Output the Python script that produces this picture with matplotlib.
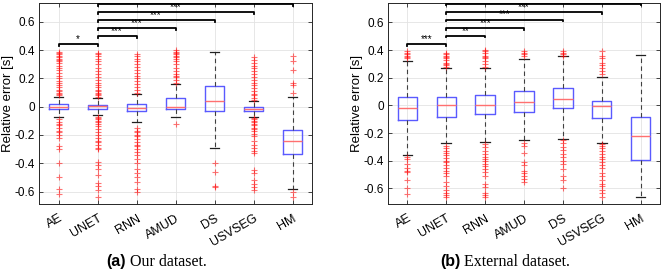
import matplotlib
matplotlib.use("Agg")
import matplotlib.pyplot as plt

plt.rcParams["font.family"] = ["Liberation Sans", "DejaVu Sans"]

methods = ["AE", "UNET", "RNN", "AMUD", "DS", "USVSEG", "HM"]

# ---- (a) Our dataset: q1, median, q3, whisker low, whisker high ----
a_q1 = [-0.019, -0.017, -0.033, -0.014, -0.030, -0.030, -0.333]
a_med = [0.000, 0.002, -0.011, 0.001, 0.038, -0.014, -0.246]
a_q3 = [0.016, 0.014, 0.019, 0.061, 0.144, 0.000, -0.163]
a_wlo = [-0.071, -0.058, -0.106, -0.071, -0.290, -0.075, -0.580]
a_whi = [0.068, 0.060, 0.092, 0.157, 0.390, 0.043, 0.068]
a_fliers = [
    [0.08, 0.09, 0.10, 0.11, 0.12, 0.14, 0.15, 0.17, 0.18, 0.20, 0.22, 0.24, 0.26, 0.27, 0.29,
     0.31, 0.32, 0.33, 0.34, 0.35, 0.36, 0.37, 0.38, 0.39,
     -0.09, -0.11, -0.12, -0.13, -0.15, -0.17, -0.18, -0.20, -0.22, -0.28, -0.30, -0.40, -0.50,
     -0.58, -0.62],
    [0.07, 0.08, 0.09, 0.10, 0.11, 0.12, 0.14, 0.15, 0.17, 0.19, 0.21, 0.23, 0.25, 0.27, 0.30,
     0.32, 0.34, 0.36, 0.37, 0.38,
     -0.07, -0.08, -0.09, -0.10, -0.11, -0.12, -0.14, -0.16, -0.18, -0.20, -0.22, -0.24, -0.25,
     -0.27, -0.29, -0.30, -0.39, -0.41, -0.44, -0.48, -0.54, -0.56, -0.59, -0.64],
    [0.10, 0.12, 0.14, 0.16, 0.18, 0.20, 0.22, 0.24, 0.26, 0.28, 0.30, 0.32, 0.34, 0.36, 0.37,
     -0.15, -0.17, -0.18, -0.20, -0.21, -0.23, -0.25, -0.27, -0.28, -0.30, -0.32, -0.34,
     -0.37, -0.40, -0.44, -0.47, -0.50, -0.53, -0.58, -0.60],
    [0.17, 0.19, 0.21, 0.22, 0.23, 0.25, 0.27, 0.30, 0.32, 0.34, 0.35, 0.36, 0.37, 0.38, 0.39,
     0.40, -0.12],
    [-0.40, -0.46, -0.56, -0.57],
    [0.05, 0.06, 0.08, 0.09, 0.11, 0.13, 0.15, 0.17, 0.19, 0.21, 0.23, 0.25, 0.27, 0.29, 0.31,
     0.33, 0.35,
     -0.08, -0.09, -0.10, -0.11, -0.12, -0.13, -0.15, -0.16, -0.17, -0.19, -0.21, -0.24,
     -0.27, -0.29, -0.31, -0.33, -0.45, -0.47, -0.52, -0.55, -0.57, -0.59],
    [0.36, 0.32, 0.26, 0.17, 0.155, 0.10, -0.60, -0.64],
]

# ---- (b) External dataset ----
b_q1 = [-0.107, -0.083, -0.065, -0.051, -0.020, -0.094, -0.392]
b_med = [-0.017, 0.000, 0.002, 0.024, 0.044, -0.007, -0.223]
b_q3 = [0.063, 0.058, 0.075, 0.106, 0.128, 0.029, -0.087]
b_wlo = [-0.360, -0.274, -0.267, -0.252, -0.243, -0.269, -0.659]
b_whi = [0.320, 0.270, 0.270, 0.334, 0.356, 0.203, 0.365]
b_fliers = [
    [0.34, 0.35, 0.36, 0.37, 0.38, 0.39,
     -0.37, -0.39, -0.42, -0.45, -0.47, -0.48, -0.54, -0.60, -0.64],
    [0.28, 0.29, 0.30, 0.31, 0.33, 0.34, 0.35, 0.36, 0.37, 0.38,
     -0.29, -0.31, -0.33, -0.34, -0.36, -0.38, -0.40, -0.41, -0.43, -0.45, -0.47, -0.49,
     -0.51, -0.55, -0.58, -0.61, -0.63, -0.65, -0.66],
    [0.28, 0.30, 0.32, 0.34, 0.35, 0.36, 0.38, 0.39, 0.40,
     -0.28, -0.30, -0.33, -0.35, -0.37, -0.39, -0.40, -0.42, -0.44, -0.46, -0.48, -0.51,
     -0.57, -0.59, -0.63, -0.65, -0.66],
    [0.36, 0.37, 0.38, 0.39,
     -0.27, -0.29, -0.34, -0.41, -0.43, -0.47, -0.49, -0.51, -0.53, -0.55],
    [0.36, 0.37, 0.38, 0.39,
     -0.25, -0.27, -0.30, -0.32, -0.35, -0.37, -0.40, -0.42, -0.46, -0.51, -0.54, -0.60],
    [0.23, 0.25, 0.27, 0.29, 0.31, 0.34, 0.36, 0.39,
     -0.28, -0.29, -0.31, -0.33, -0.35, -0.37, -0.39, -0.41, -0.43, -0.45, -0.49, -0.51,
     -0.54, -0.57, -0.58, -0.61, -0.63, -0.66],
    [],
]

# significance brackets: (from index, to index, height, label)
a_sig = [(0, 1, 0.444, "*"), (1, 2, 0.499, "***"), (1, 3, 0.553, "***"),
         (1, 4, 0.612, "***"), (1, 5, 0.667, "***"), (1, 6, 0.726, "***")]
b_sig = [(0, 1, 0.443, "***"), (1, 2, 0.503, "**"), (1, 3, 0.559, "***"),
         (1, 4, 0.620, "***"), (1, 5, 0.674, "***"), (1, 6, 0.736, "***")]

yticks = [-0.6, -0.4, -0.2, 0, 0.2, 0.4, 0.6]
ytick_labels = ["-0.6", "-0.4", "-0.2", "0", "0.2", "0.4", "0.6"]

captions = [("(a)", " Our dataset."), ("(b)", " External dataset.")]

W, H = 661, 271
fig = plt.figure(figsize=(W / 100, H / 100), dpi=100)
axA = fig.add_axes([39 / W, 1 - 204 / H, 273 / W, 201 / H])
axB = fig.add_axes([388 / W, 1 - 204 / H, 272 / W, 201 / H])


def draw(ax, q1, med, q3, wlo, whi, fliers, sig, ylim):
    stats = []
    for i, m in enumerate(methods):
        stats.append(dict(label=m, q1=q1[i], med=med[i], q3=q3[i],
                          whislo=wlo[i], whishi=whi[i], fliers=fliers[i]))
    pos = list(range(1, len(methods) + 1))
    ax.bxp(stats, positions=pos, widths=0.5, capwidths=0.25, showfliers=True,
           boxprops=dict(color="#5a5aff", lw=1.0),
           medianprops=dict(color="#ff7070", lw=1.0),
           whiskerprops=dict(color="#404040", lw=0.8, linestyle=(0, (4, 3))),
           capprops=dict(color="#202020", lw=0.9),
           flierprops=dict(marker="+", markeredgecolor="red", markersize=5,
                           markeredgewidth=0.8, alpha=0.55, linestyle="none"))
    for (i, j, y, lab) in sig:
        x1, x2 = pos[i], pos[j]
        ax.plot([x1, x1, x2, x2], [y - 0.012, y, y, y - 0.012], color="black",
                lw=1.3, clip_on=True, zorder=5)
        ax.text((x1 + x2) / 2, y + 0.001, lab, ha="center", va="bottom",
                fontsize=7, clip_on=True, zorder=5)
    ax.set_xlim(0.5, len(methods) + 0.5)
    ax.set_ylim(*ylim)
    ax.set_yticks(yticks)
    ax.set_yticklabels(ytick_labels, fontsize=8.5)
    ax.set_xticks(pos)
    ax.set_xticklabels(methods, rotation=30, ha="right", rotation_mode="anchor",
                       fontsize=9)
    ax.grid(True, color="#e3e3e3", lw=0.6)
    ax.set_axisbelow(True)
    ax.tick_params(direction="in", top=True, right=True, length=3, width=0.6,
                   color="#262626")
    ax.tick_params(axis="y", pad=3)
    ax.tick_params(axis="x", pad=6)
    for s in ax.spines.values():
        s.set_color("#262626")
        s.set_linewidth(0.7)
    ax.set_ylabel("Relative error [s]", fontsize=9.5)
    ax.yaxis.set_label_coords(-25 / 273, 0.5)


draw(axA, a_q1, a_med, a_q3, a_wlo, a_whi, a_fliers, a_sig, (-0.688, 0.733))
draw(axB, b_q1, b_med, b_q3, b_wlo, b_whi, b_fliers, b_sig, (-0.712, 0.740))

for x0, (tag, body) in zip([106, 440], captions):
    fig.text(x0 / W, 1 - 266 / H, tag, fontsize=11.5, fontweight="bold",
             family="Liberation Sans", ha="left", va="baseline")
    fig.text((x0 + 20.5) / W, 1 - 266 / H, body, fontsize=11.5,
             family="Liberation Serif", ha="left", va="baseline")

fig.savefig("out.png", dpi=100)
